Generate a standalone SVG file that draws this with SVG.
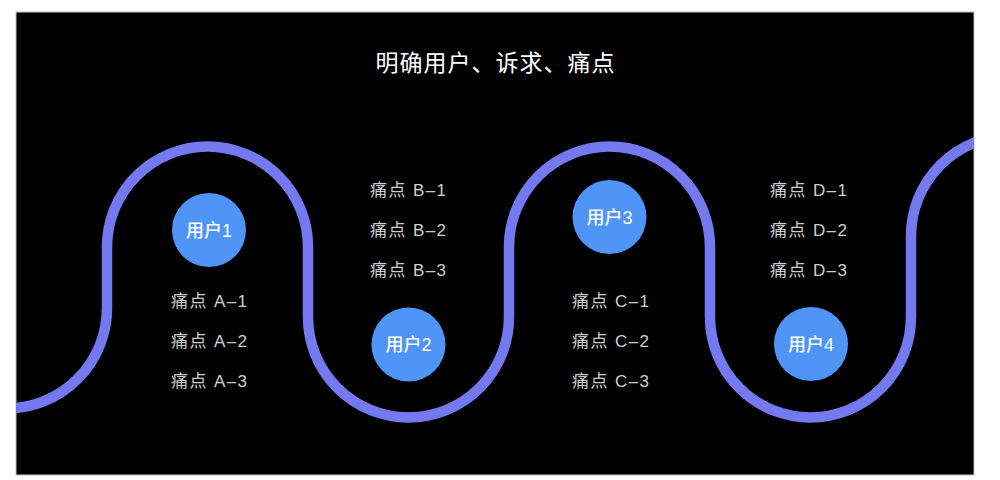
<svg xmlns="http://www.w3.org/2000/svg" width="1000" height="480" viewBox="0 0 1000 480">
  <defs>
    <clipPath id="frame">
      <rect x="16" y="12" width="958" height="463"/>
    </clipPath>
    <style>
      .title { font-family: "Noto Sans CJK SC", "Noto Sans", sans-serif; font-size: 23px; fill: #ffffff; letter-spacing: 1px; }
      .pain { font-family: "Liberation Sans", "Noto Sans CJK SC", sans-serif; font-size: 17px; fill: #cfcfcf; letter-spacing: 1.4px; }
      .user-circle { fill: #4f94f7; }
      .user-label { font-family: "Liberation Sans", "Noto Sans CJK SC", sans-serif; font-size: 18px; font-weight: 500; fill: #ffffff; text-anchor: middle; }
      .wave { fill: none; stroke: #7479ef; stroke-width: 10.5; }
    </style>
  </defs>
  <rect x="0" y="0" width="1000" height="480" fill="#ffffff"/>
  <rect x="16" y="12" width="958" height="463" fill="#000000" stroke="#c4c4c4" stroke-width="1"/>

  <text class="title" x="495.5" y="71" text-anchor="middle">明确用户、诉求、痛点</text>

  <g id="connectors" clip-path="url(#frame)">
    <path class="wave" d="M 6.5 408.5 A 100.5 100.5 0 0 0 107 308 L 107 247 A 100.5 100.5 0 0 1 308 247 L 308 317 A 100.5 100.5 0 0 0 509 317 L 509 247 A 100.5 100.5 0 0 1 710 247 L 710 317 A 100.5 100.5 0 0 0 911 317 L 911 236 A 100.5 100.5 0 0 1 1011.5 135.5"/>
  </g>

  <g id="user1">
    <circle class="user-circle" cx="209" cy="230" r="37"/>
    <text class="user-label" x="209" y="236.5">用户1</text>
  </g>
  <g id="user2">
    <circle class="user-circle" cx="408.5" cy="344.5" r="37"/>
    <text class="user-label" x="408.5" y="351">用户2</text>
  </g>
  <g id="user3">
    <circle class="user-circle" cx="609.5" cy="217" r="37"/>
    <text class="user-label" x="609.5" y="223.5">用户3</text>
  </g>
  <g id="user4">
    <circle class="user-circle" cx="811" cy="344" r="37"/>
    <text class="user-label" x="811" y="350.5">用户4</text>
  </g>

  <g id="pain-a">
    <text class="pain" x="171" y="307">痛点 A–1</text>
    <text class="pain" x="171" y="347">痛点 A–2</text>
    <text class="pain" x="171" y="387">痛点 A–3</text>
  </g>
  <g id="pain-b">
    <text class="pain" x="370" y="196">痛点 B–1</text>
    <text class="pain" x="370" y="236">痛点 B–2</text>
    <text class="pain" x="370" y="276">痛点 B–3</text>
  </g>
  <g id="pain-c">
    <text class="pain" x="572" y="307">痛点 C–1</text>
    <text class="pain" x="572" y="347">痛点 C–2</text>
    <text class="pain" x="572" y="387">痛点 C–3</text>
  </g>
  <g id="pain-d">
    <text class="pain" x="770" y="196">痛点 D–1</text>
    <text class="pain" x="770" y="236">痛点 D–2</text>
    <text class="pain" x="770" y="276">痛点 D–3</text>
  </g>
</svg>
